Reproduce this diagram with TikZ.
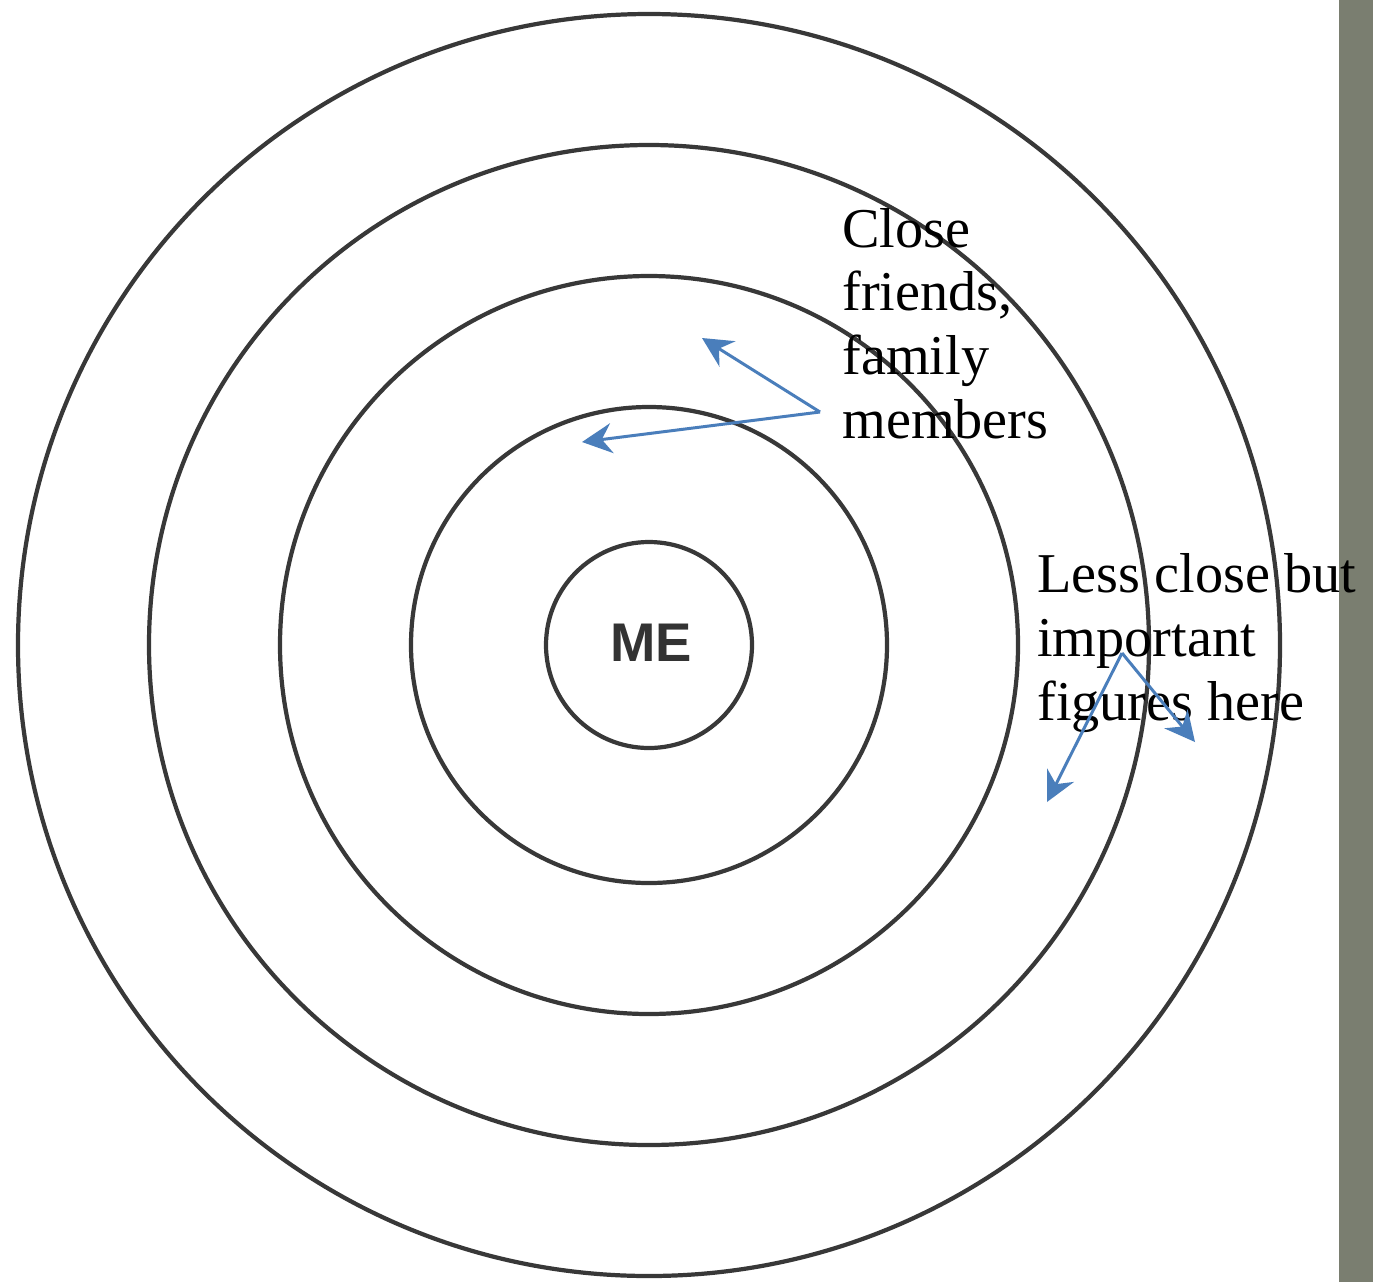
\documentclass[tikz,border=0pt]{standalone}
\usepackage{fontspec}
\setmainfont{Liberation Serif}
\newfontfamily\mesans{Liberation Sans}
\usepackage{xcolor}
\usepackage{tikz}
\usetikzlibrary{arrows.meta, positioning}

\definecolor{arrowblue}{HTML}{4A7EBB}
\definecolor{sidebar}{HTML}{7A7E70}

\begin{document}
\begin{tikzpicture}[
   x=0.02cm, y=-0.02cm,
   ring/.style={draw=black!78, line width=2.4pt},
   note/.style={align=left, anchor=base west, inner sep=0pt,
                font=\fontsize{32}{36.2}\selectfont},
   arr/.style={-{Stealth[length=6mm, width=6mm, inset=2mm]},
               line width=1.7pt, draw=arrowblue}]

  \useasboundingbox (0,0) rectangle (1373,1282);
  \fill[white] (0,0) rectangle (1373,1282);
  \fill[sidebar] (1339,0) rectangle (1373,1282);

  % target rings
  \coordinate (c) at (649,645);
  \foreach \r in {103,238,369,500,631}
    \draw[ring] (c) circle[radius=\r];

  \node[font=\mesans\bfseries\fontsize{31}{31}\selectfont, text=black!80] (me)
       at (651,643) {ME};

  % base anchor sits on the last line
  \node[note] (close) at (842,438) {Close\\friends,\\family\\members};
  \node[note] (less) at (1037,720) {Less close but\\important\\figures here};

  \coordinate (closefork) at (820,412);
  \coordinate (ringA) at (702,338);
  \coordinate (ringB) at (582,442);
  \coordinate (lessfork) at (1122,653);
  \coordinate (ringC) at (1047,802);
  \coordinate (ringD) at (1195,742);

  \draw[arr] (closefork) -- (ringA);
  \draw[arr] (closefork) -- (ringB);
  \draw[arr] (lessfork) -- (ringC);
  \draw[arr] (lessfork) -- (ringD);
\end{tikzpicture}
\end{document}
